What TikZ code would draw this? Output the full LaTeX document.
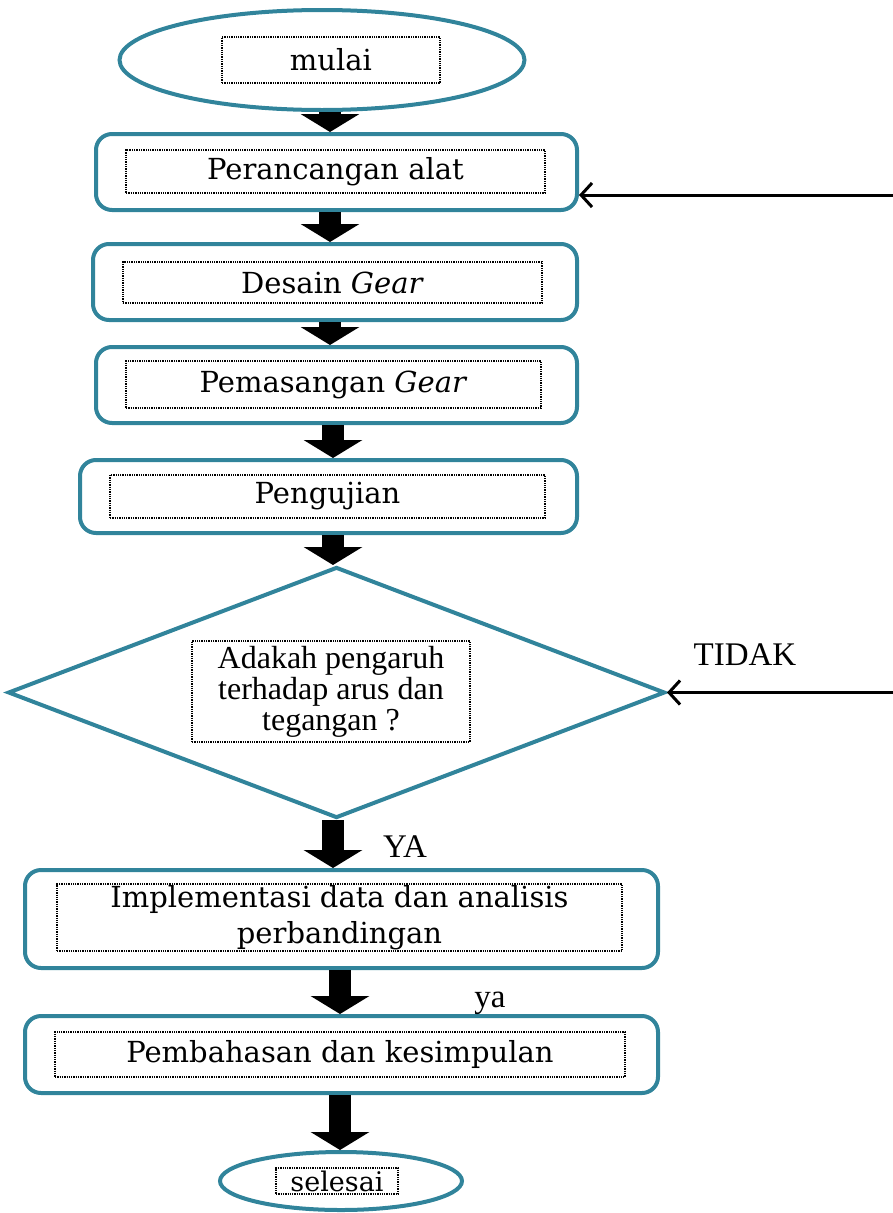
\documentclass[tikz,border=0pt]{standalone}
\usepackage{fontspec}
\setmainfont{DejaVu Serif}
\newfontfamily\tmsfont{Liberation Serif}
\usetikzlibrary{arrows.meta,shapes.geometric}
\definecolor{flow}{HTML}{31849B}
\tikzset{
  term/.style={ellipse,draw=flow,line width=4pt,inner sep=0pt},
  proc/.style={rectangle,rounded corners=16pt,draw=flow,line width=4pt,inner sep=0pt},
  dec/.style={diamond,draw=flow,line width=4pt,inner sep=0pt},
  txt/.style={draw=black,densely dotted,line width=1.3pt,inner sep=0pt,align=center,font=\fontsize{29}{36}\selectfont},
  blk/.style={line width=22pt,-{Triangle[width=58pt,length=18pt]}},
  arr/.style={line width=3pt,-{Straight Barb[length=11pt,width=24pt]}},
  lab/.style={font=\tmsfont\fontsize{33}{36}\selectfont},
}
\begin{document}
\begin{tikzpicture}[x=1pt,y=-1pt]
\useasboundingbox (0,0) rectangle (893,1213);
% start / end
\node[term,minimum width=405pt,minimum height=100pt] (mulai) at (322,60) {};
\node[txt,minimum width=218pt,minimum height=46pt] (mulai-t) at (331,60) {mulai};
\node[term,minimum width=242pt,minimum height=58pt] (selesai) at (341,1181) {};
\node[txt,minimum width=122pt,minimum height=26pt,font=\fontsize{27}{30}\selectfont] (selesai-t) at (337,1181) {selesai};
% process steps
\node[proc,minimum width=481pt,minimum height=76pt] (alat) at (336.5,172) {};
\node[txt,minimum width=419pt,minimum height=43pt] (alat-t) at (335.5,171.5) {Perancangan alat};
\node[proc,minimum width=484pt,minimum height=76pt] (desain) at (335,282) {};
\node[txt,minimum width=419pt,minimum height=41pt] (desain-t) at (332.5,282.5) {Desain \textit{Gear}};
\node[proc,minimum width=481pt,minimum height=76pt] (pasang) at (336.5,385) {};
\node[txt,minimum width=415pt,minimum height=47pt] (pasang-t) at (333.5,384.5) {Pemasangan \textit{Gear}};
\node[proc,minimum width=497pt,minimum height=73pt] (uji) at (328.5,496.5) {};
\node[txt,minimum width=435pt,minimum height=43pt] (uji-t) at (327.5,496.5) {Pengujian};
% decision
\node[dec,minimum width=657pt,minimum height=251pt] (cek) at (336.5,692.5) {};
\node[txt,minimum width=278pt,minimum height=101pt,font=\tmsfont\fontsize{32}{31}\selectfont] (cek-t) at (331,691.5) {Adakah pengaruh\\terhadap arus dan\\tegangan ?};
\node[proc,minimum width=633pt,minimum height=98pt] (impl) at (341.5,919) {};
\node[txt,minimum width=565pt,minimum height=67pt] (impl-t) at (339.5,917.5) {Implementasi data dan analisis\\perbandingan};
\node[proc,minimum width=633pt,minimum height=77pt] (bahas) at (341.5,1054.5) {};
\node[txt,minimum width=570pt,minimum height=45pt] (bahas-t) at (340,1054.5) {Pembahasan dan kesimpulan};
% block arrows down the chart
\foreach \a/\b/\dx in {mulai/alat/8,alat/desain/-6.5,desain/pasang/-5,pasang/uji/-3.5,uji/cek/4.5,cek/impl/-3.5,impl/bahas/-1.5,bahas/selesai/-1.5}
  \draw[blk] ([xshift=\dx pt]\a.south) -- ([xshift=\dx pt]\a.south |- \b.north);
% return lines
\coordinate (backR) at (893,195);
\coordinate (tidakR) at (893,692.5);
\draw[arr] (backR) -- (backR -| alat.east);
\draw[arr] (tidakR) -- (cek.east);
\node[lab] (tidak) at (745,655) {TIDAK};
\node[lab] (ya1) at (405,847) {YA};
\node[lab] (ya2) at (490,1003) {ya};
\end{tikzpicture}
\end{document}
